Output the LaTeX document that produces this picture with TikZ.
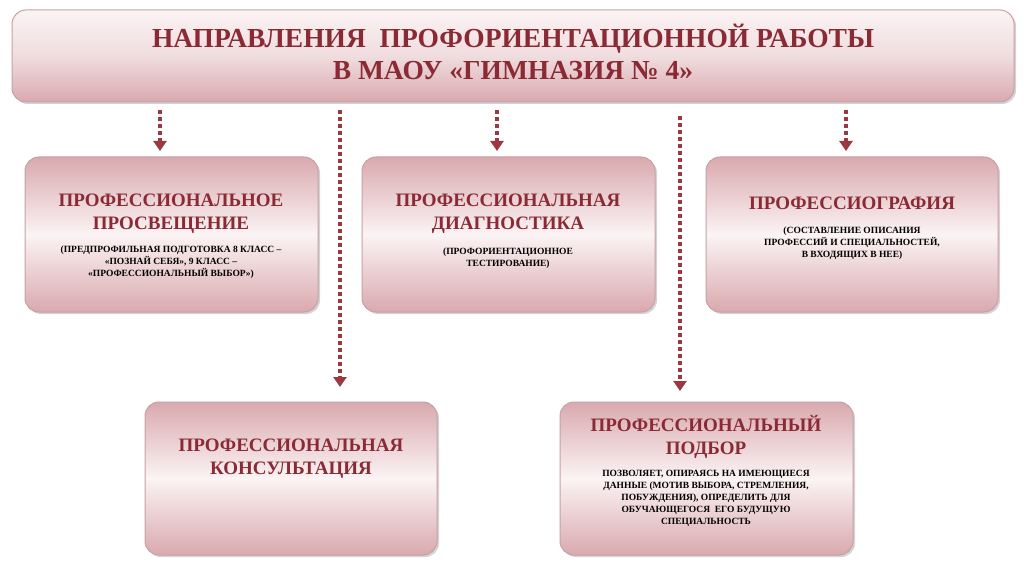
\documentclass[tikz,border=0pt]{standalone}
\usepackage{fontspec}
\setmainfont{Liberation Serif}
\usetikzlibrary{arrows.meta,shadows}
\definecolor{tred}{HTML}{8A2A35}
\definecolor{pk}{HTML}{D9A9AE}
\definecolor{pkl}{HTML}{FBF3F4}
\definecolor{arr}{HTML}{9A3A40}
\begin{document}
\begin{tikzpicture}[x=1pt,y=-1pt,
 box/.style={draw=pk!80!gray, line width=1pt, rounded corners=14pt, top color=pk, bottom color=pk, middle color=pkl, drop shadow={opacity=0.35,shadow xshift=2pt,shadow yshift=-2pt}},
 tt/.style={text=tred, font=\bfseries\fontsize{19}{23}\selectfont, align=center},
 st/.style={font=\bfseries\fontsize{9.5}{12}\selectfont, align=center},
 ar/.style={draw=arr, line width=4pt, dash pattern=on 4pt off 3pt, -{Triangle[length=10pt,width=13pt]}}]
\useasboundingbox (0,0) rectangle (1024,577);
\path[box, top color=pkl, bottom color=pk, middle color=pk!40] (12,10) rectangle (1014,102);
\node[text=tred, font=\bfseries\fontsize{27.5}{32}\selectfont, align=center] (top) at (513,52) {НАПРАВЛЕНИЯ \ ПРОФОРИЕНТАЦИОННОЙ РАБОТЫ\\В МАОУ «ГИМНАЗИЯ № 4»};
\path[box] (25,157) rectangle (318,312);
\path[box] (362,157) rectangle (655,312);
\path[box] (706,157) rectangle (998,312);
\path[box] (145,402) rectangle (437,555);
\path[box] (560,402) rectangle (853,555);
\node[tt] (b1) at (171,214) {ПРОФЕССИОНАЛЬНОЕ\\ПРОСВЕЩЕНИЕ};
\node[st] (s1) at (171,262) {(ПРЕДПРОФИЛЬНАЯ ПОДГОТОВКА 8 КЛАСС –\\«ПОЗНАЙ СЕБЯ», 9 КЛАСС –\\«ПРОФЕССИОНАЛЬНЫЙ ВЫБОР»)};
\node[tt] (b2) at (508,214) {ПРОФЕССИОНАЛЬНАЯ\\ДИАГНОСТИКА};
\node[st] (s2) at (508,258) {(ПРОФОРИЕНТАЦИОННОЕ\\ТЕСТИРОВАНИЕ)};
\node[tt] (b3) at (852,203) {ПРОФЕССИОГРАФИЯ};
\node[st] (s3) at (852,243) {(СОСТАВЛЕНИЕ ОПИСАНИЯ\\ПРОФЕССИЙ И СПЕЦИАЛЬНОСТЕЙ,\\ В ВХОДЯЩИХ В НЕЕ)};
\node[tt] (b4) at (291,459) {ПРОФЕССИОНАЛЬНАЯ\\КОНСУЛЬТАЦИЯ};
\node[tt] (b5) at (706,437) {ПРОФЕССИОНАЛЬНЫЙ\\ПОДБОР};
\node[st] (s5) at (706,498) {ПОЗВОЛЯЕТ, ОПИРАЯСЬ НА ИМЕЮЩИЕСЯ\\ДАННЫЕ (МОТИВ ВЫБОРА, СТРЕМЛЕНИЯ,\\ПОБУЖДЕНИЯ), ОПРЕДЕЛИТЬ ДЛЯ\\ОБУЧАЮЩЕГОСЯ \ ЕГО БУДУЩУЮ\\СПЕЦИАЛЬНОСТЬ};
\coordinate (a1) at (160,110); \coordinate (e1) at (160,151);
\coordinate (a2) at (340,110); \coordinate (e2) at (340,387);
\coordinate (a3) at (497,110); \coordinate (e3) at (497,151);
\coordinate (a4) at (680,116); \coordinate (e4) at (680,391);
\coordinate (a5) at (846,110); \coordinate (e5) at (846,151);
\foreach \i in {1,...,5} \draw[ar] (a\i) -- (e\i);
\end{tikzpicture}
\end{document}
